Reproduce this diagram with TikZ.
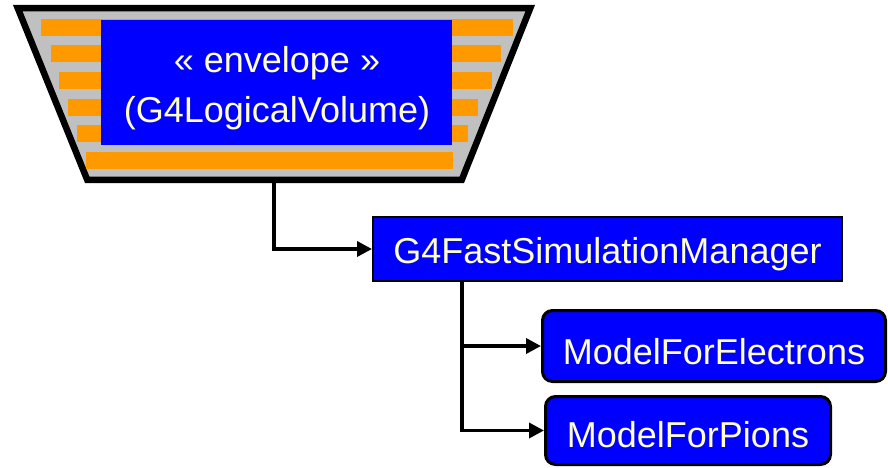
\documentclass[tikz,border=0pt]{standalone}
\usepackage{fontspec}
\setmainfont{Liberation Sans}
\usetikzlibrary{arrows.meta}
\definecolor{boxblue}{HTML}{0000FF}
\definecolor{txtyellow}{HTML}{FFFFCC}
\definecolor{barorange}{HTML}{FF9900}
\definecolor{envgray}{HTML}{C0C0C0}
\begin{document}
\begin{tikzpicture}[x=1pt,y=1pt,
  lbl/.style={text=txtyellow, font=\fontsize{36}{44}\selectfont, inner sep=0pt},
  bar/.style={fill=barorange, draw=none},
  squarebox/.style={draw=black, line width=2pt, fill=boxblue, text=txtyellow,
     font=\fontsize{36}{44}\selectfont, inner sep=0pt, text depth=2pt},
  roundbox/.style={draw=black, line width=3pt, fill=boxblue, text=txtyellow,
     rounded corners=10pt, font=\fontsize{36}{44}\selectfont, inner sep=0pt, text depth=2pt},
  conn/.style={draw=black, line width=3.5pt, -{Triangle[length=15pt,width=15pt]}}]
\useasboundingbox (0,0) rectangle (888,467);
% envelope trapezoid
\draw[line width=6.5pt, fill=envgray, line join=miter]
  (17.8,458.75) -- (530.2,458.75) -- (461.8,287.25) -- (87.2,287.25) -- cycle;
% orange bars
\fill[bar] (41,448) rectangle (513,431);
\fill[bar] (51,422) rectangle (501,405);
\fill[bar] (59,395.3) rectangle (492,378.3);
\fill[bar] (68,368.3) rectangle (477.6,351.3);
\fill[bar] (76.5,342) rectangle (468,325.3);
\fill[bar] (85.5,315) rectangle (453,298.3);
% blue logical volume box
\node[fill=boxblue, inner sep=0pt, minimum width=351pt, minimum height=125pt] (env) at (276.2,384.5) {};
\node[lbl, anchor=base] (envt1) at (277,395) {« envelope »};
\node[lbl, anchor=base] (envt2) at (277,345) {(G4LogicalVolume)};
\coordinate (tb) at (274,284);
% manager
\node[squarebox, minimum width=469pt, minimum height=64pt, text height=30pt] (fast) at (607.5,218) {G4FastSimulationManager};
\coordinate (br) at (462,185);
% models
\node[roundbox, minimum width=343pt, minimum height=71pt, text height=38pt] (elec) at (714,121) {ModelForElectrons};
\node[roundbox, minimum width=285pt, minimum height=68pt, text height=35pt] (pions) at (688,36.5) {ModelForPions};
% connectors
\draw[conn] (tb) |- (fast.west);
\draw[conn] (br) |- (pions.west);
\draw[conn] (br) |- (elec.west);
\end{tikzpicture}
\end{document}
